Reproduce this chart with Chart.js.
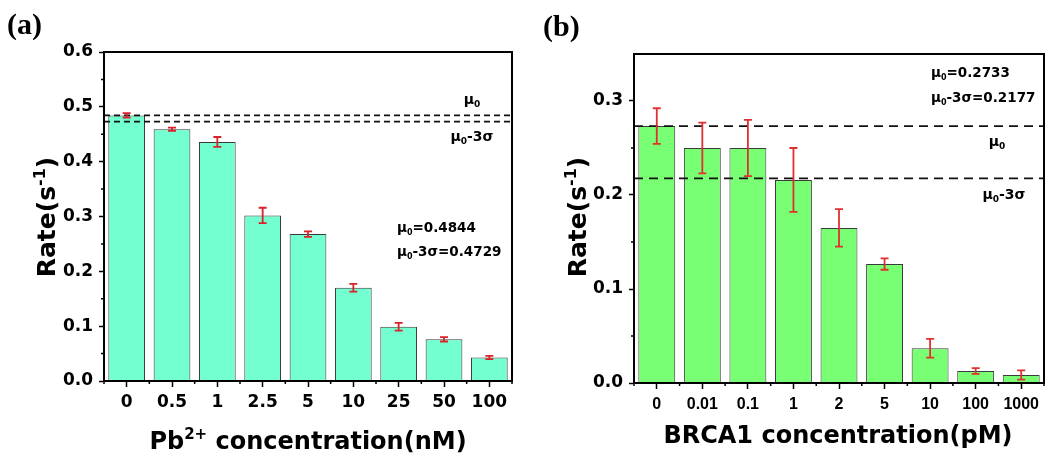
<!DOCTYPE html>
<html>
<head>
<meta charset="utf-8">
<script src="https://cdn.jsdelivr.net/npm/chart.js@4.4.1/dist/chart.umd.min.js"></script>
<style>
  body { margin: 0; background: #fff; }
  .panel { position: absolute; top: 0; width: 523px; height: 454px; }
</style>
</head>
<body>
<div class="panel" style="left:0"><canvas id="chartA"></canvas></div>
<div class="panel" style="left:523px"><canvas id="chartB"></canvas></div>
<script>
// --- Data: panel (a) Pb2+ ---
const pbLabels = ["0", "0.5", "1", "2.5", "5", "10", "25", "50", "100"];
const pbRates = [0.4844, 0.459, 0.436, 0.302, 0.268, 0.170, 0.099, 0.076, 0.043];
const pbErrors = [0.004, 0.003, 0.009, 0.014, 0.005, 0.007, 0.007, 0.004, 0.003];
const pbTicks = [0, 0.1, 0.2, 0.3, 0.4, 0.5, 0.6];
const pbMu0 = 0.4844;
const pbMu3s = 0.4729;

// --- Data: panel (b) BRCA1 ---
const brcaLabels = ["0", "0.01", "0.1", "1", "2", "5", "10", "100", "1000"];
const brcaRates = [0.2733, 0.250, 0.250, 0.216, 0.165, 0.1265, 0.037, 0.0128, 0.0085];
const brcaErrors = [0.019, 0.027, 0.030, 0.034, 0.020, 0.006, 0.010, 0.003, 0.005];
const brcaTicks = [0, 0.1, 0.2, 0.3];
const brcaMu0 = 0.2733;
const brcaMu3s = 0.2177;

const WIDE = '"DejaVu Sans", sans-serif';
const ARIAL = '"Liberation Sans", Arial, sans-serif';
const SERIF = '"Liberation Serif", "Times New Roman", serif';

// draw text made of pieces; a piece is [text] or [text, "sub"|"sup"]
function rich(ctx, parts, x, y, size, align, family) {
  const fontFor = p => `bold ${p[1] ? Math.round(size * 0.62) : size}px ${family || WIDE}`;
  let w = 0;
  parts.forEach(p => { ctx.font = fontFor(p); w += ctx.measureText(p[0]).width; });
  let cx = align === "center" ? x - w / 2 : align === "right" ? x - w : x;
  ctx.textAlign = "left";
  ctx.textBaseline = "alphabetic";
  ctx.fillStyle = "#000";
  parts.forEach(p => {
    ctx.font = fontFor(p);
    const dy = p[1] === "sup" ? -size * 0.4 : p[1] === "sub" ? size * 0.2 : 0;
    ctx.fillText(p[0], cx, y + dy);
    cx += ctx.measureText(p[0]).width;
  });
}

// --- Plugin: error bars, dashed μ lines, box, minor ticks, labels ---
function makeDecor(cfg) {
  return {
    id: "decor",
    afterDatasetsDraw(chart) {
      const { ctx, chartArea: a, scales: { y } } = chart;
      ctx.save();
      // dashed reference lines
      ctx.strokeStyle = "#111";
      ctx.lineWidth = 1.8;
      ctx.setLineDash(cfg.dash);
      [cfg.mu0, cfg.mu3s].forEach(v => {
        const py = y.getPixelForValue(v);
        ctx.beginPath(); ctx.moveTo(a.left, py); ctx.lineTo(a.right, py); ctx.stroke();
      });
      ctx.setLineDash([]);
      // error bars
      const meta = chart.getDatasetMeta(0);
      ctx.strokeStyle = cfg.errColor;
      ctx.lineWidth = 1.8;
      cfg.values.forEach((v, i) => {
        const px = meta.data[i].x;
        const hi = y.getPixelForValue(v + cfg.errors[i]);
        const lo = y.getPixelForValue(v - cfg.errors[i]);
        ctx.beginPath();
        ctx.moveTo(px, hi); ctx.lineTo(px, lo);
        ctx.moveTo(px - 4, hi); ctx.lineTo(px + 4, hi);
        ctx.moveTo(px - 4, lo); ctx.lineTo(px + 4, lo);
        ctx.stroke();
      });
      ctx.restore();
    },
    afterDraw(chart) {
      const { ctx, chartArea: a, scales: { x, y } } = chart;
      ctx.save();
      ctx.strokeStyle = "#000";
      ctx.lineWidth = 2;
      ctx.strokeRect(a.left, a.top, a.right - a.left, a.bottom - a.top);
      // minor ticks
      ctx.lineWidth = 1.5;
      ctx.beginPath();
      for (let i = 0; i < cfg.ticks.length - 1; i++) {
        const py = y.getPixelForValue((cfg.ticks[i] + cfg.ticks[i + 1]) / 2);
        ctx.moveTo(a.left - 3, py); ctx.lineTo(a.left, py);
      }
      const n = cfg.values.length;
      const cw = (a.right - a.left) / n;
      for (let k = 0; k <= n; k++) {
        const px = a.left + k * cw;
        ctx.moveTo(px, a.bottom); ctx.lineTo(px, a.bottom + 3);
      }
      ctx.stroke();
      // panel letter
      ctx.font = `bold 30px ${SERIF}`;
      ctx.fillStyle = "#000";
      ctx.textAlign = "left";
      ctx.textBaseline = "alphabetic";
      ctx.fillText(cfg.letter.text, cfg.letter.x, cfg.letter.y);
      // axis titles
      rich(ctx, cfg.xTitle.parts, cfg.xTitle.x, cfg.xTitle.y, 24, "center");
      ctx.save();
      ctx.translate(cfg.yTitle.x, cfg.yTitle.y);
      ctx.rotate(-Math.PI / 2);
      rich(ctx, [["Rate(s"], ["-1", "sup"], [")"]], 0, 0, 25, "center");
      ctx.restore();
      // annotations
      cfg.notes.forEach(nt => rich(ctx, nt.parts, nt.x, nt.y, nt.size, nt.align));
      ctx.restore();
    }
  };
}

function makeChart(id, cfg) {
  return new Chart(document.getElementById(id), {
    type: "bar",
    data: {
      labels: cfg.labels,
      datasets: [{
        data: cfg.values,
        backgroundColor: cfg.color,
        borderColor: "#3a3a3a",
        borderWidth: 1,
        categoryPercentage: 1,
        barPercentage: 0.81
      }]
    },
    options: {
      responsive: true,
      maintainAspectRatio: false,
      animation: false,
      layout: { padding: cfg.padding },
      plugins: { legend: { display: false }, tooltip: { enabled: false } },
      scales: {
        x: {
          grid: { offset: false, drawOnChartArea: false, tickLength: 6, tickWidth: 1.5, tickColor: "#000" },
          border: { color: "#000", width: 2 },
          ticks: { color: "#000", padding: cfg.xPad, maxRotation: 0, autoSkip: false, font: cfg.xFont },
          afterFit: s => { s.height = cfg.xHeight; }
        },
        y: {
          min: 0,
          max: cfg.yMax,
          afterBuildTicks: s => { s.ticks = cfg.ticks.map(v => ({ value: v })); },
          grid: { drawOnChartArea: false, tickLength: 5, tickWidth: 1.5, tickColor: "#000" },
          border: { color: "#000", width: 2 },
          ticks: { color: "#000", padding: 6, font: cfg.yFont, callback: v => v.toFixed(1) },
          afterFit: s => { s.width = cfg.yWidth; }
        }
      }
    },
    plugins: [makeDecor(cfg)]
  });
}

const mu = [["μ"], ["0", "sub"]];

makeChart("chartA", {
  labels: pbLabels, values: pbRates, errors: pbErrors, ticks: pbTicks, yMax: 0.6,
  mu0: pbMu0, mu3s: pbMu3s,
  color: "#74FFD1", errColor: "#d8232a", dash: [6, 4],
  padding: { left: 0, right: 11, top: 52, bottom: 0 },
  yWidth: 104, xHeight: 73, xPad: 5,
  xFont: { family: WIDE, size: 17, weight: "bold" },
  yFont: { family: WIDE, size: 17, weight: "bold" },
  letter: { text: "(a)", x: 7, y: 34 },
  yTitle: { x: 55, y: 217 },
  xTitle: { parts: [["Pb"], ["2+", "sup"], [" concentration(nM)"]], x: 308, y: 449 },
  notes: [
    { parts: mu, x: 472, y: 104, size: 14, align: "center" },
    { parts: [...mu, ["-3σ"]], x: 472, y: 141, size: 14, align: "center" },
    { parts: [...mu, ["=" + pbMu0.toFixed(4)]], x: 397, y: 232, size: 13.5, align: "left" },
    { parts: [...mu, ["-3σ=" + pbMu3s.toFixed(4)]], x: 397, y: 256, size: 13.5, align: "left" }
  ]
});

makeChart("chartB", {
  labels: brcaLabels, values: brcaRates, errors: brcaErrors, ticks: brcaTicks, yMax: 0.35,
  mu0: brcaMu0, mu3s: brcaMu3s,
  color: "#78FF73", errColor: "#e03030", dash: [9, 6],
  padding: { left: 0, right: 2, top: 54, bottom: 0 },
  yWidth: 111, xHeight: 71, xPad: 6,
  xFont: { family: ARIAL, size: 16, weight: "bold" },
  yFont: { family: WIDE, size: 17, weight: "bold" },
  letter: { text: "(b)", x: 20, y: 36 },
  yTitle: { x: 63, y: 217 },
  xTitle: { parts: [["BRCA1 concentration(pM)"]], x: 315, y: 443 },
  notes: [
    { parts: mu, x: 474, y: 146, size: 14, align: "center" },
    { parts: [...mu, ["-3σ"]], x: 481, y: 199, size: 14, align: "center" },
    { parts: [...mu, ["=" + brcaMu0.toFixed(4)]], x: 408, y: 77, size: 13.5, align: "left" },
    { parts: [...mu, ["-3σ=" + brcaMu3s.toFixed(4)]], x: 408, y: 102, size: 13.5, align: "left" }
  ]
});
</script>
</body>
</html>
